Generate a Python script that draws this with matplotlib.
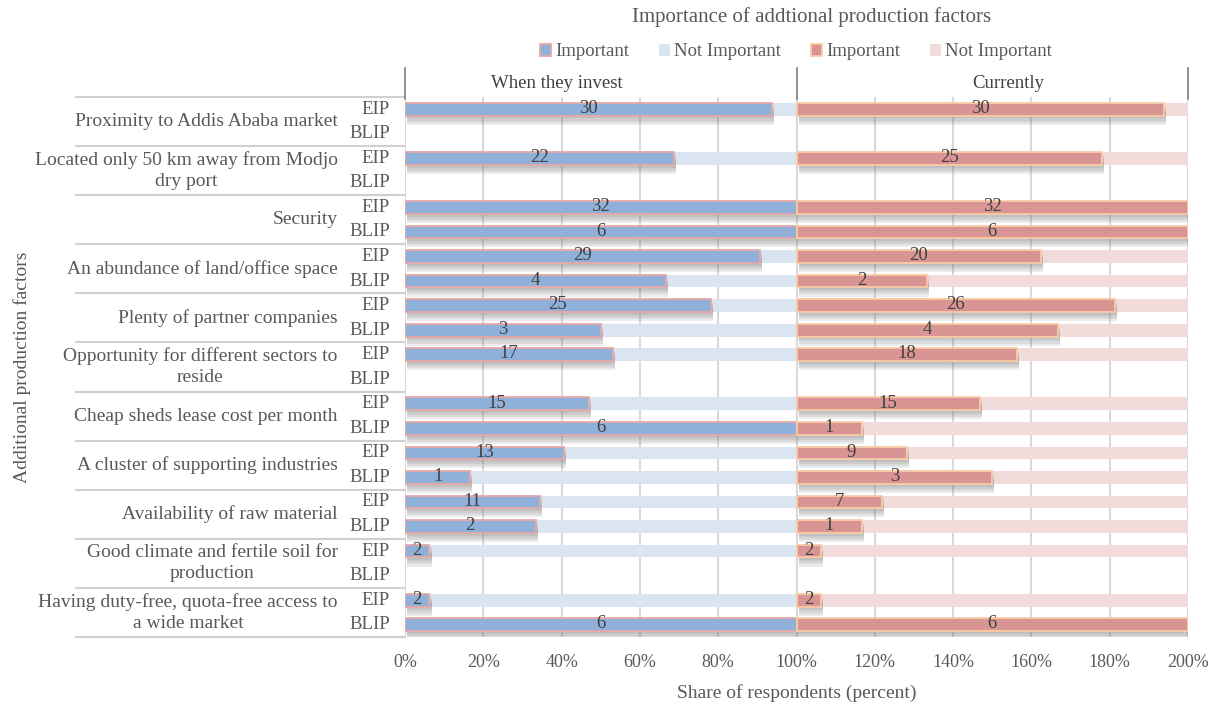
import numpy as np
import matplotlib.pyplot as plt
import matplotlib.patheffects as pe
from matplotlib.patches import Patch

#---------------------------------------------------------#
# Data: number of respondents rating each factor "important"
#---------------------------------------------------------#
factors = [
    'Proximity to Addis Ababa market',
    'Located only 50 km away from Modjo\ndry port',
    'Security',
    'An abundance of land/office space',
    'Plenty of partner companies',
    'Opportunity for different sectors to\nreside',
    'Cheap sheds lease cost per month',
    'A cluster of supporting industries',
    'Availability of raw material',
    'Good climate and fertile soil for\nproduction',
    'Having duty-free, quota-free access to\na wide market',
]
parks = ['EIP', 'BLIP']
n_resp = {'EIP': 32, 'BLIP': 6}

# None = park had no answer for that factor
eip_invest = [30, 22, 32, 29, 25, 17, 15, 13, 11, 2, 2]
blip_invest = [None, None, 6, 4, 3, None, 6, 1, 2, None, 6]
eip_current = [30, 25, 32, 20, 26, 18, 15, 9, 7, 2, 2]
blip_current = [None, None, 6, 2, 4, None, 1, 3, 1, None, 6]

xticks = list(range(0, 201, 20))

#---------------------------------------------------------#
# Style
#---------------------------------------------------------#
plt.rcParams['font.family'] = ['Liberation Serif', 'DejaVu Serif']
txt = '#595959'
blue_imp, blue_not, blue_edge = '#8FB0D9', '#DBE5F1', '#E6A9A7'
red_imp, red_not, red_edge = '#D99594', '#F2DCDB', '#F9CBA6'

fig = plt.figure(figsize=(12.22, 7.06), dpi=100)
ax = fig.add_axes([405 / 1222, 1 - 637 / 706, 783 / 1222, 540 / 706])

n_rows = 2 * len(factors)
ax.set_xlim(0, 200)
ax.set_ylim(n_rows - 0.5, -0.5)

bar_h = 0.52
# soft drop shadow: a few stacked, faint offset copies
shadow = [pe.SimplePatchShadow(offset=(1.5, -d), shadow_rgbFace='#707070', alpha=0.13)
          for d in (2, 3.5, 5, 6.5)] + [pe.Normal()]


def draw_row(y, count, total, offset, c_imp, c_not, c_edge):
    if count is None:
        return
    share = 100.0 * count / total
    if share < 100:
        ax.barh(y, 100 - share, left=offset + share, height=bar_h,
                color=c_not, edgecolor='none', zorder=2)
    b = ax.barh(y, share, left=offset, height=bar_h, color=c_imp,
                edgecolor=c_edge, linewidth=1.3, zorder=3)
    b[0].set_path_effects(shadow)
    ax.text(offset + share / 2, y - 0.03, str(count), ha='center', va='center',
            fontsize=13.5, color='#404040', zorder=4)


for i in range(len(factors)):
    y_e, y_b = 2 * i, 2 * i + 1
    draw_row(y_e, eip_invest[i], n_resp['EIP'], 0, blue_imp, blue_not, blue_edge)
    draw_row(y_b, blip_invest[i], n_resp['BLIP'], 0, blue_imp, blue_not, blue_edge)
    draw_row(y_e, eip_current[i], n_resp['EIP'], 100, red_imp, red_not, red_edge)
    draw_row(y_b, blip_current[i], n_resp['BLIP'], 100, red_imp, red_not, red_edge)

# gridlines
for x in xticks:
    ax.axvline(x, color='#D9D9D9', lw=1.5, zorder=1)

for s in ax.spines.values():
    s.set_visible(False)

ax.set_xticks(xticks)
ax.set_xticklabels([f'{x}%' for x in xticks], fontsize=13, color=txt)
ax.tick_params(axis='x', length=0, pad=12)
ax.set_yticks([])
ax.set_xlabel('Share of respondents (percent)', fontsize=14, color=txt, labelpad=10)

# category / park labels and row separators
for i, name in enumerate(factors):
    yc = 2 * i + 0.5
    ax.text(-17.2, yc, name, ha='right', va='center', fontsize=14, color=txt,
            linespacing=1.3, multialignment='center', clip_on=False)
    for j, p in enumerate(parks):
        ax.text(-3.8, 2 * i + j, p, ha='right', va='center', fontsize=13.5,
                color=txt, clip_on=False)
for k in range(len(factors) + 1):
    ax.plot([-84, 0], [2 * k - 0.5] * 2, color='#D0D0D0', lw=1.5,
            clip_on=False, zorder=1)
ax.plot([0, 0], [-0.5, n_rows - 0.5], color='#D9D9D9', lw=1.5, zorder=1)

# panel headers
for x in (0, 100, 200):
    ax.plot([x, x], [-0.4, -1.7], color='#7F7F7F', lw=1.2, clip_on=False)
ax.text(38.8, -1.07, 'When they invest', ha='center', va='center', fontsize=13.5,
        color='#404040', clip_on=False)
ax.text(154, -1.07, 'Currently', ha='center', va='center', fontsize=13.5,
        color='#404040', clip_on=False)

fig.text(22 / 1222, 1 - 367 / 706, 'Additional production factors', rotation=90,
         ha='center', va='center', fontsize=14, color=txt)
fig.text(812 / 1222, 1 - 17 / 706, 'Importance of addtional production factors',
         ha='center', va='center', fontsize=15, color=txt)

handles = [
    Patch(facecolor=blue_imp, edgecolor=blue_edge, lw=1.3, label='Important'),
    Patch(facecolor=blue_not, edgecolor='none', label='Not Important'),
    Patch(facecolor=red_imp, edgecolor=red_edge, lw=1.3, label='Important'),
    Patch(facecolor=red_not, edgecolor='none', label='Not Important'),
]
fig.legend(handles=handles, loc='center', bbox_to_anchor=(796 / 1222, 1 - 52 / 706),
           ncol=4, frameon=False, fontsize=13.5, handlelength=0.6, handleheight=0.6,
           handletextpad=0.2, columnspacing=1.6, labelcolor=txt)

fig.savefig('out.png', dpi=100)
